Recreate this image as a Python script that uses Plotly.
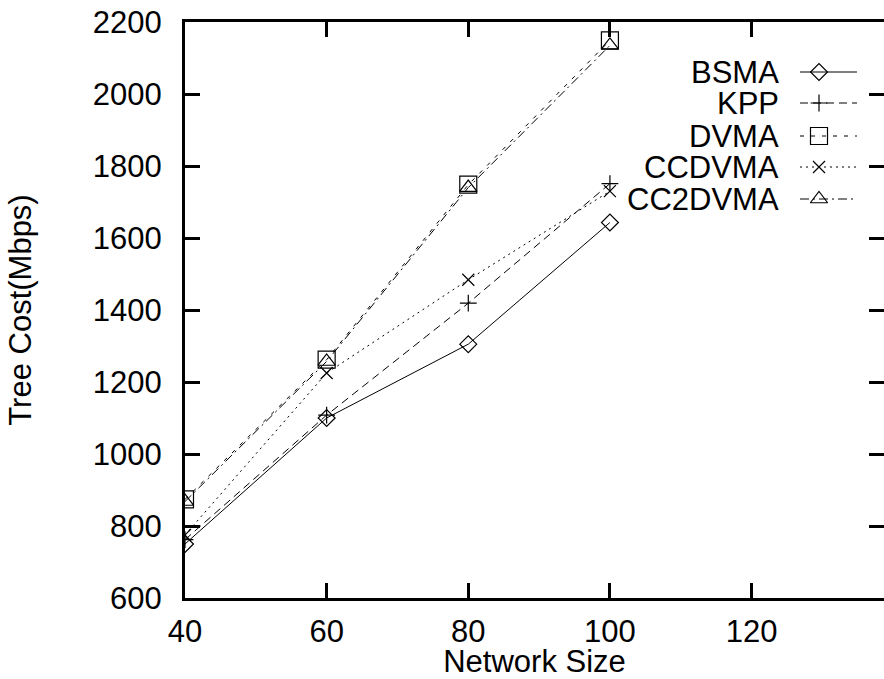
import plotly.graph_objects as go

network_size = [40, 60, 80, 100]
bsma = [750, 1100, 1305, 1643]
kpp = [762, 1108, 1419, 1751]
dvma = [874, 1262, 1748, 2149]
ccdvma = [775, 1225, 1484, 1730]
cc2dvma = [868, 1257, 1740, 2135]

series_names = ["BSMA", "KPP", "DVMA", "CCDVMA", "CC2DVMA"]
series_values = [bsma, kpp, dvma, ccdvma, cc2dvma]
dashes = ["solid", "8px,5px", "4px,7px", "2px,4px", "9px,4px,2px,4px"]
symbols = ["diamond-open", "cross-thin-open", "square-open", "x-thin-open", "triangle-up-open"]
sizes = [13, 12, 17, 12, 15]

x_ticks = [40, 60, 80, 100, 120]
y_ticks = [600, 800, 1000, 1200, 1400, 1600, 1800, 2000, 2200]

FONT = "Liberation Sans, Arial, Helvetica, sans-serif"
FS = 31

fig = go.Figure()

for name, vals, dash, sym, sz in zip(series_names, series_values, dashes, symbols, sizes):
    fig.add_trace(go.Scatter(
        x=network_size, y=vals, mode="lines+markers", name=name,
        line=dict(color="black", width=1, dash=dash),
        marker=dict(symbol=sym, size=sz, color="black", line=dict(color="black", width=1.2)),
        showlegend=False, xaxis="x", yaxis="y"))

# invisible trace for right-side mirror ticks axis
fig.add_trace(go.Scatter(x=[network_size[0]], y=[y_ticks[0]], mode="markers",
                         marker=dict(opacity=0), showlegend=False, hoverinfo="skip",
                         xaxis="x", yaxis="y2"))

# custom legend (text left, sample right) in pixel-like coordinates
leg_rows = [72, 103, 136, 167, 199]
for name, dash, sym, sz, ry in zip(series_names, dashes, symbols, sizes, leg_rows):
    fig.add_trace(go.Scatter(x=[800, 857], y=[ry, ry], mode="lines",
                             line=dict(color="black", width=1, dash=dash),
                             showlegend=False, hoverinfo="skip", xaxis="x3", yaxis="y3"))
    fig.add_trace(go.Scatter(x=[819], y=[ry], mode="markers",
                             marker=dict(symbol=sym, size=sz, color="black",
                                         line=dict(color="black", width=1.2)),
                             showlegend=False, hoverinfo="skip", xaxis="x3", yaxis="y3"))
    fig.add_annotation(x=781, y=ry, xref="x3", yref="y3", text=name, showarrow=False,
                       xanchor="right", yanchor="middle",
                       font=dict(family=FONT, size=FS, color="black"))

fig.update_layout(
    width=884, height=679,
    margin=dict(l=185, r=0, t=22, b=81),
    paper_bgcolor="white", plot_bgcolor="white",
    font=dict(family=FONT, size=FS, color="black"),
    xaxis=dict(range=[40, 138.7], tickvals=x_ticks, ticktext=[str(v) for v in x_ticks],
               showgrid=False, zeroline=False, showline=True, linecolor="black", linewidth=3,
               mirror="ticks", ticks="inside", ticklen=15, tickwidth=2.5, tickcolor="black",
               ticklabelstandoff=4,
               title=dict(text="Network Size", font=dict(family=FONT, size=FS), standoff=4)),
    yaxis=dict(range=[600, 2200], tickvals=y_ticks, ticktext=[str(v) for v in y_ticks],
               showgrid=False, zeroline=False, showline=True, linecolor="black", linewidth=3,
               ticks="inside", ticklen=15, tickwidth=2.5, tickcolor="black",
               ticklabelstandoff=14,
               title=dict(text="Tree Cost(Mbps)", font=dict(family=FONT, size=FS), standoff=52)),
    yaxis2=dict(range=[600, 2200], tickvals=y_ticks, overlaying="y", side="right",
                showgrid=False, zeroline=False, showline=False, showticklabels=False,
                ticks="inside", ticklen=15, tickwidth=2.5, tickcolor="black"),
    xaxis3=dict(range=[185, 884], domain=[0, 1], overlaying="x", visible=False, fixedrange=True),
    yaxis3=dict(range=[598, 22], domain=[0, 1], overlaying="y", visible=False, fixedrange=True),
)

fig.write_html("out.html")
